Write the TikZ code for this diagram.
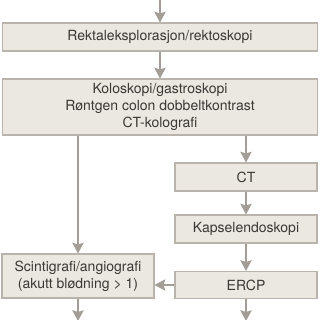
\documentclass[tikz,border=0pt]{standalone}
\usepackage{fontspec}
\setmainfont{TeX Gyre Heros}
\usetikzlibrary{arrows.meta,positioning}
\definecolor{boxfill}{HTML}{EBE7E1}
\definecolor{boxline}{HTML}{B8B3AB}
\definecolor{arrowc}{HTML}{A29E97}
\definecolor{txt}{HTML}{3A3835}

\begin{document}
\begin{tikzpicture}[x=0.75pt,y=-0.75pt,font=\fontsize{10.5}{12.5}\selectfont,
    stepbox/.style={draw=boxline,fill=boxfill,line width=0.8pt,inner sep=0pt,align=center,text=txt},
    flow/.style={-{Stealth[length=8pt,width=8.5pt,inset=1.2pt]},arrowc,line width=1.1pt}]
  \useasboundingbox (0,0) rectangle (320,320);
  % full-width steps
  \node[stepbox,minimum width=236.25pt,minimum height=21pt] (rekt) at (160,37) {Rektaleksplorasjon/rektoskopi};
  \node[stepbox,minimum width=236.25pt,minimum height=42pt] (kolo) at (160,107) {Koloskopi/gastroskopi\\Røntgen colon dobbeltkontrast\\CT-kolografi};
  % right column
  \node[stepbox,minimum width=106.5pt,minimum height=21pt] (ct) at (246,177) {CT};
  \node[stepbox,minimum width=106.5pt,minimum height=21pt] (kapsel) at (246,229) {Kapselendoskopi};
  \node[stepbox,minimum width=106.5pt,minimum height=20.25pt] (ercp) at (246,285) {ERCP};
  % left column
  \node[stepbox,minimum width=114pt,minimum height=33pt] (scinti) at (78,276) {Scintigrafi/angiografi\\(akutt blødning > 1)};
  \coordinate (top) at (160,0);
  \coordinate (endl) at (78,321);
  \coordinate (endr) at (246,321);
  \draw[flow] (top) -- (rekt);
  \draw[flow] (rekt) -- (kolo);
  \draw[flow] (kolo.south -| ct.north) -- (ct);
  \draw[flow] (ct) -- (kapsel);
  \draw[flow] (kapsel) -- (ercp);
  \draw[flow] (kolo.south -| scinti.north) -- (scinti);
  \draw[flow] (ercp.west) -- (ercp.west -| scinti.east);
  \draw[flow] (scinti) -- (endl);
  \draw[flow] (ercp) -- (endr);
\end{tikzpicture}
\end{document}
